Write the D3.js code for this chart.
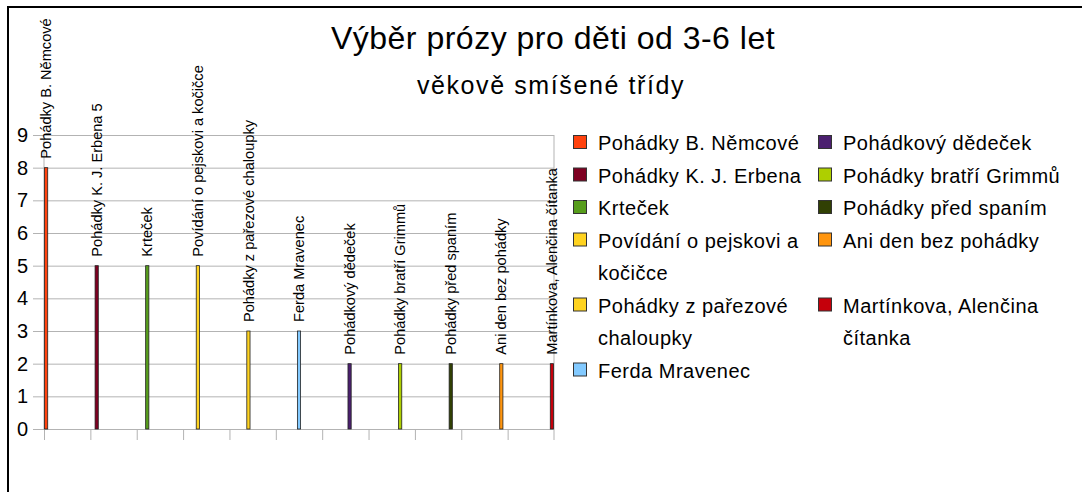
<!DOCTYPE html>
<meta charset="utf-8">
<style>
	body { margin: 0; background: #fff; }
	svg { display: block; font-family: "Liberation Sans", Arial, sans-serif; }
	.grid line { stroke: #b3b3b3; }
	.grid path { display: none; }
	.yaxis text { font-size: 20px; fill: #000; }
</style>
<script src="https://cdn.jsdelivr.net/npm/d3@7"></script>
<body>
<div id="chart"></div>
<script>
	// knihy (kategorie) a počty
	let books = [
		"Pohádky B. Němcové",
		"Pohádky K. J. Erbena",
		"Krteček",
		"Povídání o pejskovi a kočičce",
		"Pohádky z pařezové chaloupky",
		"Ferda Mravenec",
		"Pohádkový dědeček",
		"Pohádky bratří Grimmů",
		"Pohádky před spaním",
		"Ani den bez pohádky",
		"Martínkova, Alenčina čítanka"
	];
	let counts = [8, 5, 5, 5, 3, 3, 2, 2, 2, 2, 2];
	// popisky nad sloupci (druhý má v originále i hodnotu)
	let barLabels = [
		"Pohádky B. Němcové",
		"Pohádky K. J. Erbena 5",
		"Krteček",
		"Povídání o pejskovi a kočičce",
		"Pohádky z pařezové chaloupky",
		"Ferda Mravenec",
		"Pohádkový dědeček",
		"Pohádky bratří Grimmů",
		"Pohádky před spaním",
		"Ani den bez pohádky",
		"Martínkova, Alenčina čítanka"
	];
	let colors = ["#ff420e", "#7e0021", "#579d1c", "#ffd320", "#ffd320", "#83caff",
		"#4b1f6f", "#aecf00", "#314004", "#ff950e", "#c5000b"];
	let yTicks = [0, 1, 2, 3, 4, 5, 6, 7, 8, 9];

	let width = 1082, height = 492;

	let svg = d3.select("#chart")
		.append("svg")
		.attr("width", width)
		.attr("height", height);

	// rámeček (vidět je jen levá a horní hrana)
	svg.append("path")
		.attr("d", "M8,492 V7 H1082")
		.attr("fill", "none")
		.attr("stroke", "#000")
		.attr("stroke-width", 2);

	// titulky
	svg.append("text")
		.attr("x", 553).attr("y", 49)
		.attr("text-anchor", "middle")
		.style("font-size", "32px")
		.style("letter-spacing", "0.5px")
		.text("Výběr prózy pro děti od 3-6 let");
	svg.append("text")
		.attr("x", 551).attr("y", 94)
		.attr("text-anchor", "middle")
		.style("font-size", "25px")
		.style("letter-spacing", "1.6px")
		.text("věkově smíšené třídy");

	let plot = { left: 44, right: 554, top: 135, bottom: 429 };

	let x0 = d3.scaleBand()
		.domain(d3.range(books.length))
		.range([plot.left, plot.right])
		.padding(0);

	let x1 = d3.scaleBand()
		.domain(d3.range(books.length))
		.range([0, x0.bandwidth()])
		.padding(0);

	let y = d3.scaleLinear()
		.domain([0, 9])
		.range([plot.bottom, plot.top]);

	// mřížka + osa y
	let yAxis = svg.append("g")
		.attr("class", "grid yaxis")
		.attr("transform", `translate(${plot.left},0)`)
		.call(d3.axisLeft(y)
			.tickValues(yTicks)
			.tickSize(-(plot.right - plot.left))
			.tickSizeOuter(0)
			.tickPadding(16));
	yAxis.selectAll(".tick line").attr("x1", -11);

	// svislé čáry osy
	svg.append("line")
		.attr("x1", plot.left).attr("x2", plot.left)
		.attr("y1", plot.top).attr("y2", plot.bottom)
		.attr("stroke", "#b3b3b3");
	svg.append("line")
		.attr("x1", plot.right).attr("x2", plot.right)
		.attr("y1", plot.top).attr("y2", plot.bottom + 11)
		.attr("stroke", "#b3b3b3");

	// dílky na ose x
	svg.append("g")
		.selectAll("line")
		.data(d3.range(books.length))
		.join("line")
		.attr("x1", d => x0(d) + 0.5)
		.attr("x2", d => x0(d) + 0.5)
		.attr("y1", plot.bottom)
		.attr("y2", plot.bottom + 11)
		.attr("stroke", "#b3b3b3");

	// sloupce: kategorie i má hodnotu jen v řadě i
	let bars = svg.append("g")
		.selectAll("rect")
		.data(counts)
		.join("rect")
		.attr("x", (d, i) => x0(i) + x1(i) + 0.5)
		.attr("y", d => y(d))
		.attr("width", x1.bandwidth() - 1)
		.attr("height", d => y(0) - y(d))
		.attr("fill", (d, i) => colors[i])
		.attr("stroke", "#222")
		.attr("stroke-width", 0.8);

	svg.append("g")
		.selectAll("text")
		.data(counts)
		.join("text")
		.attr("transform", (d, i) =>
			`translate(${x0(i) + x1(i) + x1.bandwidth() / 2},${y(d) - 9}) rotate(-90)`)
		.attr("dy", "0.35em")
		.style("font-size", "14.6px")
		.text((d, i) => barLabels[i]);

	// legenda ve dvou sloupcích
	let legendCols = [573, 818];
	let perCol = 6;
	let lineH = 32.5;
	let maxW = 228;

	let legend = svg.append("g");
	let items = books.map((name, i) => {
		let col = Math.floor(i / perCol), row = i % perCol;
		let t = legend.append("text")
			.attr("x", legendCols[col] + 25)
			.style("font-size", "20px")
			.style("letter-spacing", "0.5px");
		// zalamování podle šířky
		let words = name.split(" "), lines = [], cur = "";
		words.forEach(w => {
			let test = cur ? cur + " " + w : w;
			t.text(test);
			if (t.node().getComputedTextLength() > maxW && cur) {
				lines.push(cur);
				cur = w;
			} else cur = test;
		});
		lines.push(cur);
		t.text(null);
		return { i, col, row, t, lines };
	});

	let rowY = [], yy = 143;
	for (let r = 0; r < perCol; r++) {
		rowY.push(yy);
		let n = d3.max(items.filter(d => d.row === r), d => d.lines.length);
		yy += n * lineH;
	}

	items.forEach(d => {
		let cy = rowY[d.row];
		d.t.selectAll("tspan")
			.data(d.lines)
			.join("tspan")
			.attr("x", legendCols[d.col] + 25)
			.attr("y", (l, k) => cy + k * lineH)
			.attr("dy", "0.35em")
			.text(l => l);
		legend.append("rect")
			.attr("x", legendCols[d.col] + 0.5)
			.attr("y", cy - 7.5)
			.attr("width", 13)
			.attr("height", 13)
			.attr("fill", colors[d.i])
			.attr("stroke", "#333")
			.attr("stroke-width", 1);
	});
</script>
</body>
